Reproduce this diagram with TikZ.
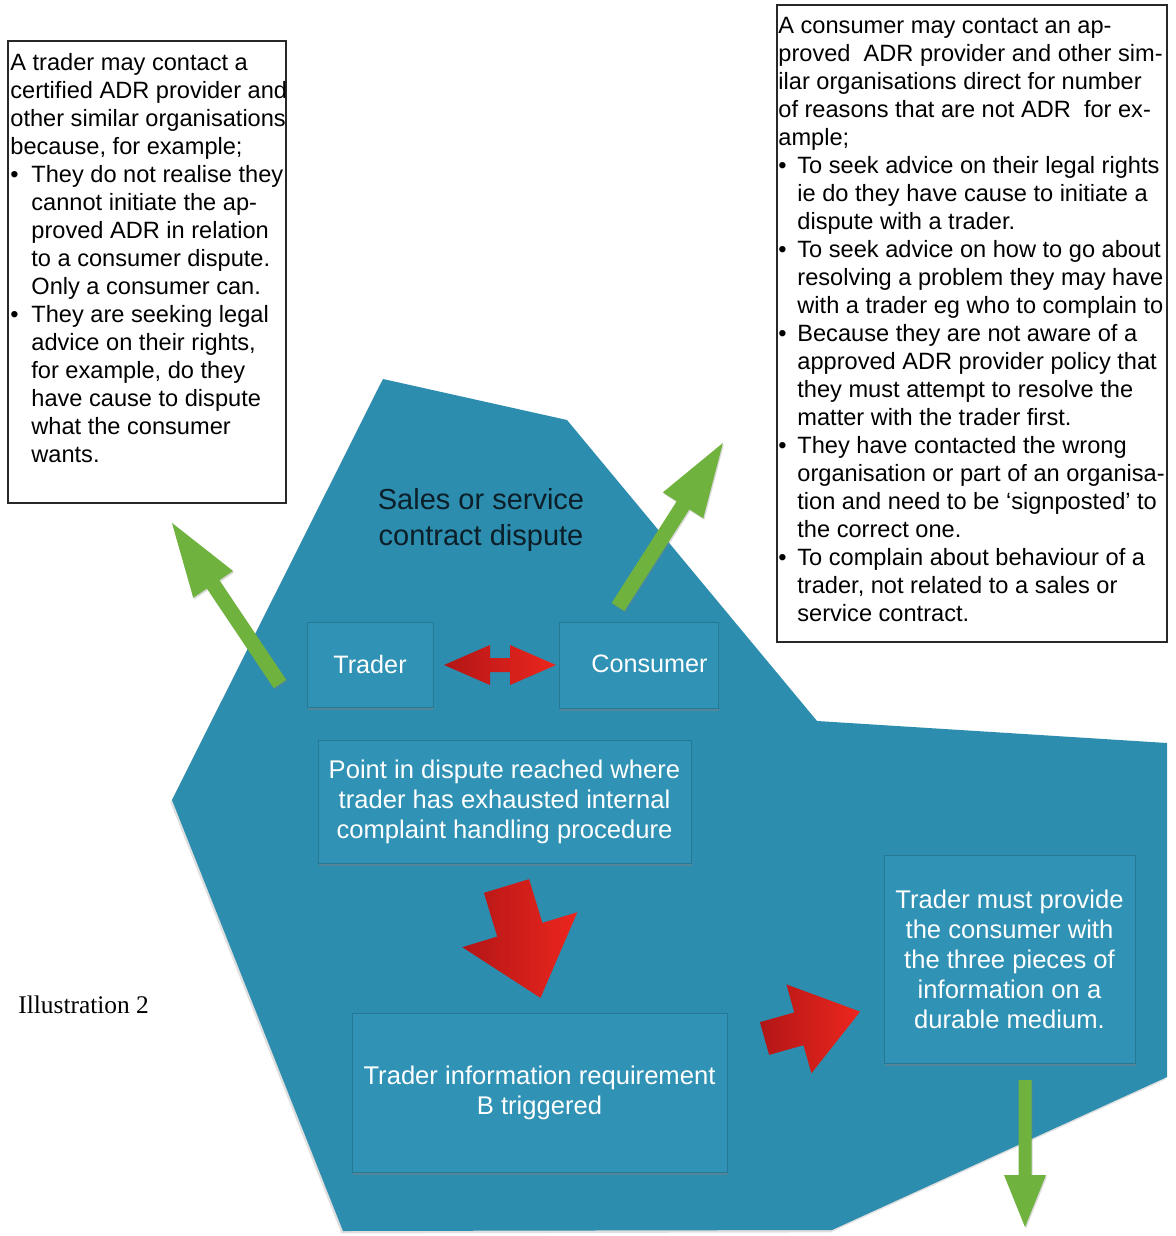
\documentclass[tikz,border=0pt]{standalone}
\usepackage{fontspec}
\setmainfont{Liberation Serif}
\setsansfont{Liberation Sans}
\usetikzlibrary{shadows}
\definecolor{bgblue}{RGB}{44,141,174}
\definecolor{boxblue}{RGB}{48,146,180}
\definecolor{garrow}{RGB}{112,178,62}
\definecolor{rarrow}{RGB}{236,38,30}
\definecolor{rdark}{RGB}{178,22,22}
\definecolor{framegray}{RGB}{40,40,40}
\definecolor{titleink}{RGB}{12,30,40}
\newlength\bind
\newcommand\blt{\makebox[\bind][l]{•}}
\newcommand\bcont{\hspace*{\bind}}
% #1 style, #2 tail, #3 angle, #4 length, #5 shaft half-width, #6 head length, #7 head half-width
\newcommand\blkarr[7]{%
  \begin{scope}[shift={#2},rotate=#3]
    \path[#1] (0,-#5) -- ({#4-#6},-#5) -- ({#4-#6},-#7) -- (#4,0) -- ({#4-#6},#7) -- ({#4-#6},#5) -- (0,#5) -- cycle;
  \end{scope}}
\begin{document}
\begin{tikzpicture}[x=0.5pt,y=-0.5pt,
  infobox/.style={draw=framegray, line width=0.6pt, inner sep=0pt, outer sep=0pt, anchor=north west},
  infotext/.style={anchor=north west, inner sep=0pt, align=left, font=\sffamily\fontsize{11.8}{14}\selectfont},
  innerbox/.style={fill=boxblue, draw=boxblue!82!black, line width=0.4pt, inner sep=0pt, outer sep=0pt,
    drop shadow={shadow xshift=0.6pt, shadow yshift=-1.6pt, opacity=0.45}},
  innertext/.style={text=white, align=center, font=\sffamily\fontsize{12.8}{15}\selectfont},
  greenarr/.style={fill=garrow, drop shadow={shadow xshift=0.5pt, shadow yshift=-0.8pt, opacity=0.3}},
  redarr/.style={left color=rdark, right color=rarrow},
]
\fill[white] (0,0) rectangle (1176,1236);
\useasboundingbox (0,0) rectangle (1176,1236);

% main blue field
\path[fill=bgblue, drop shadow={shadow xshift=-0.8pt, shadow yshift=-1.2pt, opacity=0.25}]
  (383,379) -- (567,420) -- (817,721) -- (1167,743) -- (1167,1077) -- (832,1230) -- (343,1231) -- (172,800) -- cycle;

% title
\node[text=titleink, align=center, font=\sffamily\fontsize{14.5}{18}\selectfont] (title) at (481,520)
  {Sales or service\\contract dispute};

% inner boxes
\node[innerbox, minimum width=63pt, minimum height=42.5pt] (trader) at (370,664.5)
  {\color{white}\sffamily\fontsize{12.6}{15}\selectfont Trader};
\node[innerbox, minimum width=79.5pt, minimum height=43pt] (consumerbox) at (638.5,665) {};
\node[innertext, font=\sffamily\fontsize{12.6}{15}\selectfont, inner sep=0pt] (consumer) at (649.5,664) {Consumer};
\node[innerbox, minimum width=186.5pt, minimum height=61.5pt, innertext] (point) at (504.5,801.5)
  {Point in dispute reached where\\trader has exhausted internal\\complaint handling procedure};
\node[innerbox, minimum width=187.5pt, minimum height=79.5pt, innertext] (info) at (539.5,1092.5)
  {Trader information requirement\\B triggered};
\node[innerbox, minimum width=125.5pt, minimum height=104pt, innertext] (provide) at (1009.5,959)
  {Trader must provide\\the consumer with\\the three pieces of\\information on a\\durable medium.};

% red arrows
\path[redarr] (444,665) -- (490,645) -- (490,658) -- (510,658) -- (510,645) -- (556,665)
  -- (510,685) -- (510,672) -- (490,672) -- (490,685) -- cycle;
\blkarr{redarr}{(506.5,886)}{-73.1}{116.9}{23.6}{71.2}{60.1}
\blkarr{redarr}{(764.5,1038.5)}{15.7}{99.3}{17}{63.6}{46.2}

% green arrows
\blkarr{greenarr}{(280,684)}{123.85}{194}{7.5}{74}{24}
\blkarr{greenarr}{(618,607)}{57.4}{194.7}{7.5}{74}{24}
\blkarr{greenarr}{(1025,1080)}{-90}{147}{6.5}{52}{21}

% left text box
\node[infobox, minimum width=139pt, minimum height=231pt] (leftbox) at (8,41) {};
\setlength\bind{10.5pt}
\node[infotext] (lefttext) at (10,53)
  {A trader may contact a\\
   certified ADR provider and\\
   other similar organisations\\
   because, for example;\\
   \blt They do not realise they\\
   \bcont cannot initiate the ap-\\
   \bcont proved ADR in relation\\
   \bcont to a consumer dispute.\\
   \bcont Only a consumer can.\\
   \blt They are seeking legal\\
   \bcont advice on their rights,\\
   \bcont for example, do they\\
   \bcont have cause to dispute\\
   \bcont what the consumer\\
   \bcont wants.};

% right text box
\node[infobox, minimum width=195pt, minimum height=318.5pt] (rightbox) at (777,5) {};
\node[infotext] (righttext) at (778,17)
  {A consumer may contact an ap-\\
   proved~ ADR provider and other sim-\\
   ilar organisations direct for number\\
   of reasons that are not ADR~ for ex-\\
   ample;\\
   \setlength\bind{9.5pt}\blt To seek advice on their legal rights\\
   \setlength\bind{9.5pt}\bcont ie do they have cause to initiate a\\
   \setlength\bind{9.5pt}\bcont dispute with a trader.\\
   \setlength\bind{9.5pt}\blt To seek advice on how to go about\\
   \setlength\bind{9.5pt}\bcont resolving a problem they may have\\
   \setlength\bind{9.5pt}\bcont with a trader eg who to complain to\\
   \setlength\bind{9.5pt}\blt Because they are not aware of a\\
   \setlength\bind{9.5pt}\bcont approved ADR provider policy that\\
   \setlength\bind{9.5pt}\bcont they must attempt to resolve the\\
   \setlength\bind{9.5pt}\bcont matter with the trader first.\\
   \setlength\bind{9.5pt}\blt They have contacted the wrong\\
   \setlength\bind{9.5pt}\bcont organisation or part of an organisa-\\
   \setlength\bind{9.5pt}\bcont tion and need to be ‘signposted’ to\\
   \setlength\bind{9.5pt}\bcont the correct one.\\
   \setlength\bind{9.5pt}\blt To complain about behaviour of a\\
   \setlength\bind{9.5pt}\bcont trader, not related to a sales or\\
   \setlength\bind{9.5pt}\bcont service contract.};

% caption
\node[anchor=base west, inner sep=0pt, font=\rmfamily\fontsize{12.7}{15}\selectfont] (caption) at (18,1013)
  {Illustration 2};
\end{tikzpicture}
\end{document}
